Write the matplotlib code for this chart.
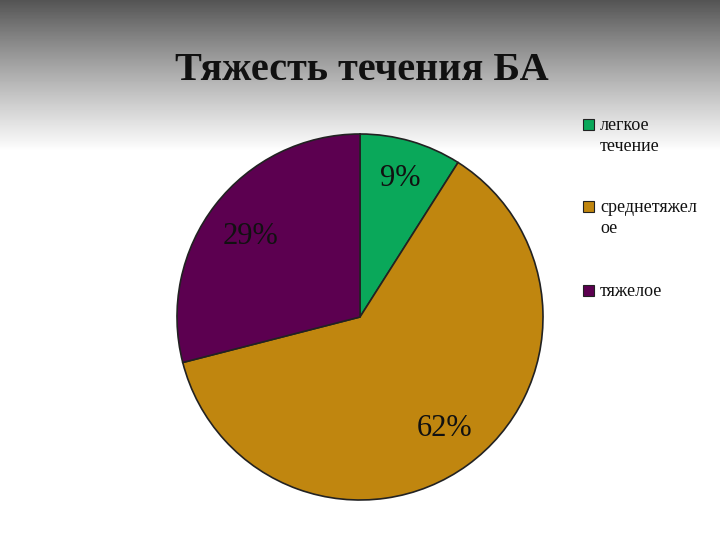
import numpy as np
import matplotlib.pyplot as plt
from matplotlib.patches import Rectangle

labels = ['легкое\nтечение', 'среднетяжел\nое', 'тяжелое']
values = [9, 62, 29]
colors = ['#0aa85a', '#c0860f', '#5c0050']

fig = plt.figure(figsize=(7.2, 5.4), dpi=100)

# background: dark grey at top fading quickly to white
bg = fig.add_axes([0, 0, 1, 1])
t = np.linspace(0, 1, 540)
shade = np.clip(0.25 + 0.75 * (t / 0.28), 0, 1) ** 0.8
img = np.tile(shade[:, None], (1, 10))
bg.imshow(img, cmap='gray', vmin=0, vmax=1, aspect='auto', extent=[0, 1, 1, 0])
bg.axis('off')

fig.text(0.503, 1 - 70 / 540, 'Тяжесть течения БА', ha='center', va='center',
         fontsize=29, fontweight='bold', family='Liberation Serif', color='#111111')

# pie: centre (360, 317) px, radius ~183 px
ax = fig.add_axes([(360 - 183) / 720, 1 - (317 + 183) / 540, 366 / 720, 366 / 540])
ax.pie(values, colors=colors, startangle=90, counterclock=False,
       wedgeprops=dict(edgecolor='#222222', linewidth=1.2))
ax.set_aspect('equal')
ax.set_xlim(-1, 1)
ax.set_ylim(-1, 1)

pct_pos = [(400, 178), (250, 237), (445, 428)]
pct_txt = ['9%', '29%', '62%']
for (x, y), s in zip(pct_pos, pct_txt):
    fig.text(x / 720, 1 - y / 540, s, ha='center', va='center',
             fontsize=22, family='Liberation Serif', color='#111111')

# legend
leg_y = [125, 207, 291]
for lab, c, y in zip(labels, colors, leg_y):
    fig.patches.append(Rectangle((583 / 720, 1 - (y + 5) / 540), 11 / 720, 11 / 540,
                                 transform=fig.transFigure, facecolor=c,
                                 edgecolor='#222222', linewidth=0.8))
    fig.text(600 / 720, 1 - (y - 8) / 540, lab, ha='left', va='top',
             fontsize=13, family='Liberation Serif', color='#111111', linespacing=1.3)

fig.savefig('out.png', dpi=100)
